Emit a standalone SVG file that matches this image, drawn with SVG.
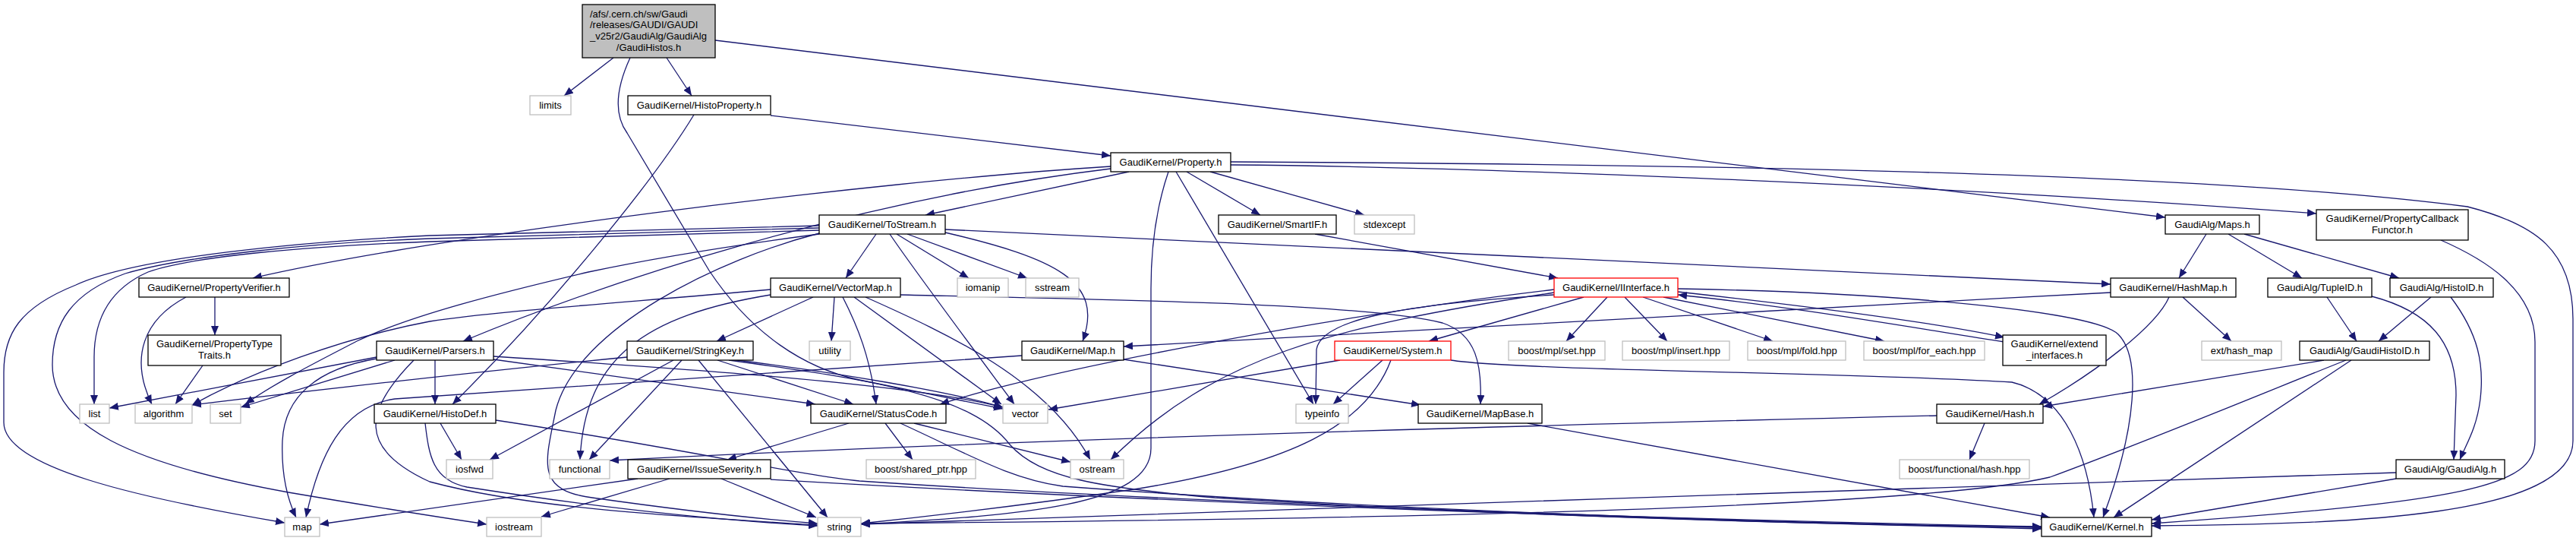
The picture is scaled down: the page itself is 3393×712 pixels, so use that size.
<svg xmlns="http://www.w3.org/2000/svg" width="3393" height="712" viewBox="0 0 3393 712">
<style>
rect{fill:#fff;stroke:#000;stroke-width:1.3}
.g rect{stroke:#bfbfbf}
.r rect{stroke:#ff0000}
.root rect{fill:#bfbfbf}
text{font-family:"Liberation Sans",Arial,sans-serif;font-size:13px;text-anchor:middle;fill:#000}
.st{text-anchor:start}
#edges path{fill:none;stroke:#191970;stroke-width:1.3;marker-end:url(#a)}
</style>
<defs>
<marker id="a" markerUnits="userSpaceOnUse" markerWidth="12" markerHeight="10" viewBox="0 0 12 10" refX="12" refY="5" orient="auto"><path d="M0,0 L12,5 L0,10 z" fill="#191970"/></marker>
</defs>
<rect x="0" y="0" width="3393" height="712" style="fill:#fff;stroke:none"/>
<g id="edges">
<path d="M808,76 L743,126"/>
<path d="M878,76 L911,126"/>
<path d="M942,53 L2852,286"/>
<path d="M830,76 C812,115 808,150 826,175 L934,356 C990,440 1060,485 1132,500 C1200,514 1260,526 1321,538"/>
<path d="M1015,152 L1463,205"/>
<path d="M914,151 C860,240 720,410 596,532"/>
<path d="M1463,219 C1132,240 566,312 333,366"/>
<path d="M1463,222 C1132,262 800,370 610,449"/>
<path d="M1487,226 L1219,283"/>
<path d="M1539,226 C1524,270 1516,320 1516,380 L1516,590 C1516,665 1350,678 1134,690"/>
<path d="M1549,226 L1730,532"/>
<path d="M1563,226 L1660,283"/>
<path d="M1594,226 L1797,283"/>
<path d="M1621,217 C1900,219 2500,240 3051,281"/>
<path d="M1621,213 C2200,216 2900,226 3250,272 C3340,295 3389,330 3389,420 L3389,580 C3389,680 3100,690 2834,692"/>
<path d="M1154,308 L1114,366"/>
<path d="M1172,308 C1200,350 1290,470 1336,532"/>
<path d="M1181,308 L1276,366"/>
<path d="M1195,308 L1353,366"/>
<path d="M1245,306 C1390,340 1455,370 1426,449"/>
<path d="M1245,302 L2780,374"/>
<path d="M1079,307 C950,340 760,430 732,540 C718,610 705,645 780,655 C900,672 1000,683 1077,689"/>
<path d="M1079,297 L566,310 C400,318 180,338 100,375 C25,405 5,440 5,490 L5,556 C5,615 180,655 375,688"/>
<path d="M1079,300 L566,314 C400,320 240,338 165,360 C95,385 69,425 69,480 C69,560 170,610 380,648 C480,665 560,678 641,690"/>
<path d="M1079,303 L566,318 C400,324 250,338 195,358 C145,380 124,420 124,470 L124,532"/>
<path d="M1079,308 C950,325 860,340 775,358 C660,385 540,415 470,449 C420,475 360,505 323,532"/>
<path d="M1071,391 L944,449"/>
<path d="M1099,391 L1095,449"/>
<path d="M1110,391 C1130,430 1146,470 1154,532"/>
<path d="M1125,391 L1319,532"/>
<path d="M1140,391 C1250,440 1380,500 1436,605"/>
<path d="M1186,388 C1500,395 1800,400 1900,425 C1945,440 1952,480 1950,532"/>
<path d="M1015,381 C800,400 650,410 566,423 C450,445 330,490 253,533"/>
<path d="M1015,388 C850,415 770,470 764,605"/>
<path d="M573,474 L573,532"/>
<path d="M650,469 C900,485 1200,505 1321,536"/>
<path d="M650,473 L1074,532"/>
<path d="M496,470 L144,537"/>
<path d="M520,474 L317,536"/>
<path d="M496,472 C420,485 375,520 372,580 C370,630 380,660 390,681"/>
<path d="M545,474 C480,540 470,590 566,634 C700,670 900,680 1077,691"/>
<path d="M580,557 L608,605"/>
<path d="M560,557 C565,600 570,632 615,641 C800,670 950,685 1077,692"/>
<path d="M653,553 C900,590 1050,625 1132,633 C1500,658 2200,685 2689,693"/>
<path d="M840,630 L421,690"/>
<path d="M882,630 L713,680"/>
<path d="M950,630 L1075,681"/>
<path d="M1015,631 C1500,660 2200,685 2689,696"/>
<path d="M1118,557 L958,605"/>
<path d="M1166,557 L1202,605"/>
<path d="M1204,557 L1410,608"/>
<path d="M1186,557 C1280,600 1330,630 1400,640 C1800,670 2300,688 2689,694"/>
<path d="M887,474 L645,605"/>
<path d="M898,474 L776,605"/>
<path d="M920,474 L1090,681"/>
<path d="M945,474 L1124,532"/>
<path d="M963,473 C1100,490 1250,515 1321,536"/>
<path d="M960,474 C1150,500 1280,520 1330,585 C1370,630 1450,642 1600,655 C2000,680 2400,690 2689,694"/>
<path d="M826,470 C650,487 400,515 253,533"/>
<path d="M1346,468 C1000,490 700,510 520,525 C450,535 420,600 403,681"/>
<path d="M1480,473 L1871,533"/>
<path d="M2780,385 C2300,410 1800,438 1480,456"/>
<path d="M2875,391 L2939,449"/>
<path d="M2857,391 C2840,430 2760,490 2686,532"/>
<path d="M2906,308 L2870,366"/>
<path d="M2935,308 L3032,366"/>
<path d="M2956,308 L3160,366"/>
<path d="M3065,391 L3104,449"/>
<path d="M3124,390 C3200,410 3235,450 3235,520 L3232,605"/>
<path d="M3202,391 L3133,449"/>
<path d="M3228,391 C3265,440 3272,480 3267,525 C3262,565 3248,585 3240,605"/>
<path d="M3061,474 L2691,535"/>
<path d="M3090,474 C2950,530 2830,580 2700,628 C2500,675 1600,685 1134,689"/>
<path d="M3097,474 L2784,681"/>
<path d="M3156,622 C2600,640 1700,670 1134,690"/>
<path d="M3156,630 L2834,684"/>
<path d="M3215,316 C3270,340 3339,380 3339,450 L3339,580 C3339,640 3250,660 2834,689"/>
<path d="M1732,308 L2052,366"/>
<path d="M2047,381 C1800,410 1400,480 1238,532"/>
<path d="M2047,385 C1750,430 1600,470 1463,605"/>
<path d="M2047,388 C1850,400 1740,420 1734,460 L1733,532"/>
<path d="M2086,391 L1882,449"/>
<path d="M2117,391 L2063,449"/>
<path d="M2140,391 L2196,449"/>
<path d="M2164,391 L2335,449"/>
<path d="M2191,391 L2482,449"/>
<path d="M2210,384 C2400,405 2550,425 2640,444"/>
<path d="M2210,380 C2500,385 2760,410 2790,440 C2820,470 2815,560 2770,681"/>
<path d="M2640,450 C2500,428 2350,402 2210,388"/>
<path d="M1765,474 L1381,539"/>
<path d="M1821,474 L1756,532"/>
<path d="M1832,474 C1800,560 1700,610 1500,643 C1350,665 1200,682 1134,689"/>
<path d="M1911,474 C2000,488 2450,490 2650,503 C2720,520 2750,600 2758,681"/>
<path d="M2012,557 L2700,681"/>
<path d="M2551,547 C2000,560 1300,580 803,606"/>
<path d="M2614,557 L2594,605"/>
<path d="M283,391 L283,441"/>
<path d="M245,391 C190,420 170,470 200,532"/>
<path d="M267,481 L231,532"/>
</g>
<g id="n-root" class="root"><rect x="767" y="6" width="175" height="70"/><text class="st" x="777" y="22.7">/afs/.cern.ch/sw/Gaudi</text><text class="st" x="777" y="37.3">/releases/GAUDI/GAUDI</text><text class="st" x="777" y="52">_v25r2/GaudiAlg/GaudiAlg</text><text x="854.5" y="66.7">/GaudiHistos.h</text></g>
<g id="n-limits" class="g"><rect x="698" y="126" width="54" height="25"/><text x="725" y="143">limits</text></g>
<g id="n-histoproperty"><rect x="827" y="126" width="188" height="25"/><text x="921" y="143">GaudiKernel/HistoProperty.h</text></g>
<g id="n-property"><rect x="1463" y="201" width="158" height="25"/><text x="1542" y="218">GaudiKernel/Property.h</text></g>
<g id="n-maps"><rect x="2852" y="283" width="124" height="25"/><text x="2914" y="300">GaudiAlg/Maps.h</text></g>
<g id="n-pcf"><rect x="3051" y="276" width="200" height="40"/><text x="3151" y="292">GaudiKernel/PropertyCallback</text><text x="3151" y="307">Functor.h</text></g>
<g id="n-pv"><rect x="183" y="366" width="198" height="25"/><text x="282" y="383">GaudiKernel/PropertyVerifier.h</text></g>
<g id="n-ptt"><rect x="195" y="441" width="175" height="40"/><text x="282.5" y="457">GaudiKernel/PropertyType</text><text x="282.5" y="471.5">Traits.h</text></g>
<g id="n-tostream"><rect x="1079" y="283" width="166" height="25"/><text x="1162" y="300">GaudiKernel/ToStream.h</text></g>
<g id="n-smartif"><rect x="1605" y="283" width="155" height="25"/><text x="1682.5" y="300">GaudiKernel/SmartIF.h</text></g>
<g id="n-stdexcept" class="g"><rect x="1784" y="283" width="79" height="25"/><text x="1823.5" y="300">stdexcept</text></g>
<g id="n-iinterface" class="r"><rect x="2047" y="366" width="163" height="25"/><text x="2128.5" y="383">GaudiKernel/IInterface.h</text></g>
<g id="n-hashmap"><rect x="2780" y="366" width="165" height="25"/><text x="2862.5" y="383">GaudiKernel/HashMap.h</text></g>
<g id="n-tupleid"><rect x="2987" y="366" width="137" height="25"/><text x="3055.5" y="383">GaudiAlg/TupleID.h</text></g>
<g id="n-histoid"><rect x="3148" y="366" width="136" height="25"/><text x="3216" y="383">GaudiAlg/HistoID.h</text></g>
<g id="n-parsers"><rect x="496" y="449" width="154" height="25"/><text x="573" y="466">GaudiKernel/Parsers.h</text></g>
<g id="n-vectormap"><rect x="1015" y="366" width="171" height="25"/><text x="1100.5" y="383">GaudiKernel/VectorMap.h</text></g>
<g id="n-stringkey"><rect x="826" y="449" width="166" height="25"/><text x="909" y="466">GaudiKernel/StringKey.h</text></g>
<g id="n-utility" class="g"><rect x="1066" y="449" width="54" height="25"/><text x="1093" y="466">utility</text></g>
<g id="n-iomanip" class="g"><rect x="1261" y="366" width="67" height="25"/><text x="1294.5" y="383">iomanip</text></g>
<g id="n-sstream" class="g"><rect x="1351" y="366" width="70" height="25"/><text x="1386" y="383">sstream</text></g>
<g id="n-map-h"><rect x="1346" y="449" width="134" height="25"/><text x="1413" y="466">GaudiKernel/Map.h</text></g>
<g id="n-system" class="r"><rect x="1758" y="449" width="153" height="25"/><text x="1834.5" y="466">GaudiKernel/System.h</text></g>
<g id="n-mplset" class="g"><rect x="1987" y="449" width="127" height="25"/><text x="2050.5" y="466">boost/mpl/set.hpp</text></g>
<g id="n-mplinsert" class="g"><rect x="2137" y="449" width="141" height="25"/><text x="2207.5" y="466">boost/mpl/insert.hpp</text></g>
<g id="n-mplfold" class="g"><rect x="2302" y="449" width="129" height="25"/><text x="2366.5" y="466">boost/mpl/fold.hpp</text></g>
<g id="n-mplforeach" class="g"><rect x="2455" y="449" width="159" height="25"/><text x="2534.5" y="466">boost/mpl/for_each.hpp</text></g>
<g id="n-extend"><rect x="2638" y="441" width="136" height="40"/><text x="2706" y="457">GaudiKernel/extend</text><text x="2706" y="471.5">_interfaces.h</text></g>
<g id="n-exthashmap" class="g"><rect x="2900" y="449" width="105" height="25"/><text x="2952.5" y="466">ext/hash_map</text></g>
<g id="n-gaudihistoid"><rect x="3029" y="449" width="171" height="25"/><text x="3114.5" y="466">GaudiAlg/GaudiHistoID.h</text></g>
<g id="n-list" class="g"><rect x="105" y="532" width="39" height="25"/><text x="124.5" y="549">list</text></g>
<g id="n-algorithm" class="g"><rect x="178" y="532" width="75" height="25"/><text x="215.5" y="549">algorithm</text></g>
<g id="n-set" class="g"><rect x="277" y="532" width="40" height="25"/><text x="297" y="549">set</text></g>
<g id="n-histodef"><rect x="493" y="532" width="160" height="25"/><text x="573" y="549">GaudiKernel/HistoDef.h</text></g>
<g id="n-statuscode"><rect x="1068" y="532" width="178" height="25"/><text x="1157" y="549">GaudiKernel/StatusCode.h</text></g>
<g id="n-vector" class="g"><rect x="1321" y="532" width="59" height="25"/><text x="1350.5" y="549">vector</text></g>
<g id="n-typeinfo" class="g"><rect x="1707" y="532" width="69" height="25"/><text x="1741.5" y="549">typeinfo</text></g>
<g id="n-mapbase"><rect x="1868" y="532" width="163" height="25"/><text x="1949.5" y="549">GaudiKernel/MapBase.h</text></g>
<g id="n-hash"><rect x="2551" y="532" width="140" height="25"/><text x="2621" y="549">GaudiKernel/Hash.h</text></g>
<g id="n-iosfwd" class="g"><rect x="588" y="605" width="61" height="25"/><text x="618.5" y="622">iosfwd</text></g>
<g id="n-functional" class="g"><rect x="724" y="605" width="79" height="25"/><text x="763.5" y="622">functional</text></g>
<g id="n-issueseverity"><rect x="827" y="605" width="188" height="25"/><text x="921" y="622">GaudiKernel/IssueSeverity.h</text></g>
<g id="n-ostream" class="g"><rect x="1410" y="605" width="70" height="25"/><text x="1445" y="622">ostream</text></g>
<g id="n-sharedptr" class="g"><rect x="1141" y="605" width="144" height="25"/><text x="1213" y="622">boost/shared_ptr.hpp</text></g>
<g id="n-funchash" class="g"><rect x="2502" y="605" width="171" height="25"/><text x="2587.5" y="622">boost/functional/hash.hpp</text></g>
<g id="n-gaudialg"><rect x="3156" y="605" width="143" height="25"/><text x="3227.5" y="622">GaudiAlg/GaudiAlg.h</text></g>
<g id="n-map" class="g"><rect x="375" y="681" width="46" height="25"/><text x="398" y="698">map</text></g>
<g id="n-iostream" class="g"><rect x="641" y="681" width="72" height="25"/><text x="677" y="698">iostream</text></g>
<g id="n-string" class="g"><rect x="1077" y="681" width="57" height="25"/><text x="1105.5" y="698">string</text></g>
<g id="n-kernel"><rect x="2689" y="681" width="145" height="25"/><text x="2761.5" y="698">GaudiKernel/Kernel.h</text></g>
</svg>
